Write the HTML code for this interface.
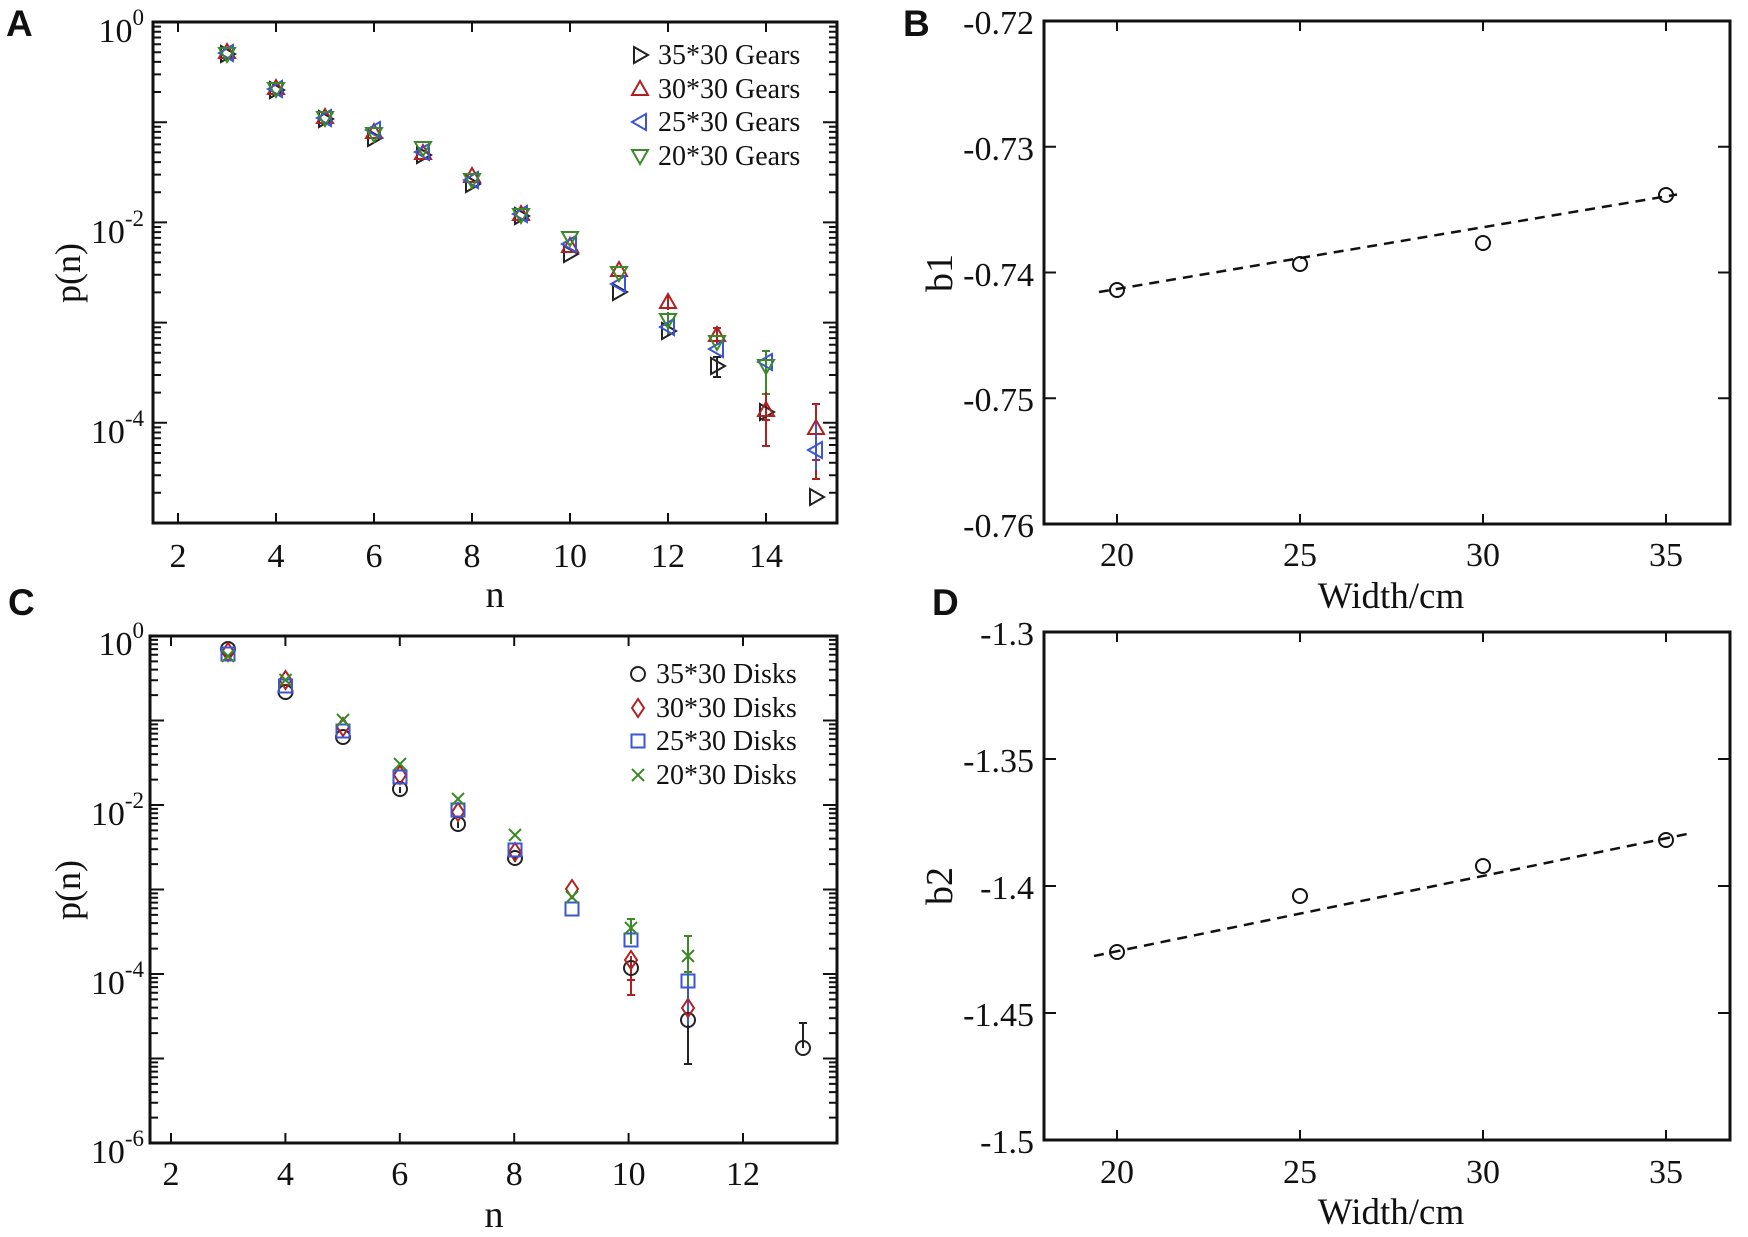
<!DOCTYPE html>
<html><head><meta charset="utf-8"><style>
html,body{margin:0;padding:0;background:#fff;}
svg{display:block;}
text{font-family:"Liberation Serif",serif;fill:#111;}
.lt{font-family:"Liberation Sans",sans-serif;font-weight:bold;font-size:37px;}
.tk{font-size:34px;}
.lg{font-size:28px;}
</style></head><body>
<svg width="1748" height="1237" viewBox="0 0 1748 1237" xmlns="http://www.w3.org/2000/svg">
<defs>
<path id="decA" d="M0 4.6h8M0 9.7h8M0 15.5h8M0 22.2h8M0 30.2h8M0 39.9h8M0 52.4h8M0 70h8" stroke="#111" stroke-width="2"/>
<path id="decC" d="M0 3.9h8M0 8.2h8M0 13.1h8M0 18.8h8M0 25.4h8M0 33.6h8M0 44.2h8M0 59.1h8" stroke="#111" stroke-width="2"/>
<path id="tR" d="M-6 -8L8 0L-6 8Z" fill="none" stroke-width="2"/>
<path id="tU" d="M-8 6L0 -8L8 6Z" fill="none" stroke-width="2"/>
<path id="tL" d="M6 -8L-8 0L6 8Z" fill="none" stroke-width="2"/>
<path id="tD" d="M-8 -6L0 8L8 -6Z" fill="none" stroke-width="2"/>
<circle id="ci" r="7" fill="none" stroke-width="2"/>
<path id="di" d="M0 -9L6 0L0 9L-6 0Z" fill="none" stroke-width="2"/>
<rect id="sq" x="-6.5" y="-6.5" width="13" height="13" fill="none" stroke-width="2"/>
<path id="xx" d="M-6 -6L6 6M-6 6L6 -6" fill="none" stroke-width="2"/>
</defs>

<text class="lt" x="6" y="36">A</text>
<text class="lt" x="903" y="36">B</text>
<text class="lt" x="8" y="615">C</text>
<text class="lt" x="932" y="615">D</text>

<!-- Panel A -->
<g stroke="#111" fill="none">
<rect x="153" y="22" width="684" height="501" stroke-width="3"/>
<path d="M178 523v-10M276 523v-10M374 523v-10M472 523v-10M570 523v-10M668 523v-10M766 523v-10M178 22v10M276 22v10M374 22v10M472 22v10M570 22v10M668 22v10M766 22v10" stroke-width="2"/>
<path d="M153 22h14M153 122.2h14M153 222.4h14M153 322.6h14M153 422.8h14M837 122.2h-14M837 222.4h-14M837 322.6h-14M837 422.8h-14" stroke-width="2"/>
</g>
<use href="#decA" x="153" y="22"/><use href="#decA" x="153" y="122.2"/><use href="#decA" x="153" y="222.4"/><use href="#decA" x="153" y="322.6"/><use href="#decA" x="153" y="422.8"/>
<use href="#decA" x="829" y="22"/><use href="#decA" x="829" y="122.2"/><use href="#decA" x="829" y="222.4"/><use href="#decA" x="829" y="322.6"/><use href="#decA" x="829" y="422.8"/>
<g class="tk" text-anchor="end">
<text x="144" y="42">10<tspan dy="-17" font-size="23">0</tspan></text>
<text x="144" y="243">10<tspan dy="-17" font-size="23">-2</tspan></text>
<text x="144" y="443">10<tspan dy="-17" font-size="23">-4</tspan></text>
</g>
<g class="tk" text-anchor="middle">
<text x="178" y="567">2</text><text x="276" y="567">4</text><text x="374" y="567">6</text><text x="472" y="567">8</text><text x="570" y="567">10</text><text x="668" y="567">12</text><text x="766" y="567">14</text>
</g>
<text x="495" y="607" font-size="38" text-anchor="middle">n</text>
<text transform="translate(80,273) rotate(-90)" font-size="36" text-anchor="middle">p(n)</text>

<g stroke-width="2">
<path d="M766 351V394M762 351h8M762 394h8" stroke="#3a8a2a"/>
<path d="M766 392V446M762 446h8M762 420h8" stroke="#b02020"/>
<path d="M816 404V479M812 404h8M812 479h8M812 460h8" stroke="#b02020"/>
<path d="M816 420V470" stroke="#3b55d6"/>
<path d="M717 357V377M713 357h8M713 377h8" stroke="#222"/>
<path d="M717 328V345M713 328h8" stroke="#b02020"/>
<path d="M668 312V335" stroke="#3a8a2a"/>
<path d="M668 295V310" stroke="#b02020"/>
</g>
<g stroke="#222">
<use href="#tR" x="227" y="54"/><use href="#tR" x="276" y="90"/><use href="#tR" x="325" y="119"/><use href="#tR" x="374" y="138"/><use href="#tR" x="423" y="155"/><use href="#tR" x="472" y="184"/><use href="#tR" x="521" y="216"/><use href="#tR" x="570" y="254"/><use href="#tR" x="619" y="292"/><use href="#tR" x="668" y="331"/><use href="#tR" x="717" y="366"/><use href="#tR" x="766" y="412"/><use href="#tR" x="816" y="497"/>
</g>
<g stroke="#b02020">
<use href="#tU" x="227" y="52"/><use href="#tU" x="276" y="88"/><use href="#tU" x="325" y="117"/><use href="#tU" x="374" y="132"/><use href="#tU" x="423" y="153"/><use href="#tU" x="472" y="176"/><use href="#tU" x="521" y="214"/><use href="#tU" x="570" y="246"/><use href="#tU" x="619" y="270"/><use href="#tU" x="668" y="302"/><use href="#tU" x="717" y="335"/><use href="#tU" x="766" y="410"/><use href="#tU" x="816" y="428"/>
</g>
<g stroke="#3b55d6">
<use href="#tL" x="227" y="53"/><use href="#tL" x="276" y="89"/><use href="#tL" x="325" y="118"/><use href="#tL" x="374" y="130"/><use href="#tL" x="423" y="152"/><use href="#tL" x="472" y="180"/><use href="#tL" x="521" y="214"/><use href="#tL" x="570" y="244"/><use href="#tL" x="619" y="284"/><use href="#tL" x="668" y="327"/><use href="#tL" x="717" y="349"/><use href="#tL" x="766" y="362"/><use href="#tL" x="816" y="450"/>
</g>
<g stroke="#3a8a2a">
<use href="#tD" x="227" y="54"/><use href="#tD" x="276" y="89"/><use href="#tD" x="325" y="118"/><use href="#tD" x="374" y="134"/><use href="#tD" x="423" y="148"/><use href="#tD" x="472" y="180"/><use href="#tD" x="521" y="215"/><use href="#tD" x="570" y="238"/><use href="#tD" x="619" y="273"/><use href="#tD" x="668" y="320"/><use href="#tD" x="717" y="342"/><use href="#tD" x="766" y="366"/>
</g>
<use href="#tR" x="640" y="55" stroke="#222"/>
<use href="#tU" x="640" y="89" stroke="#b02020"/>
<use href="#tL" x="640" y="122" stroke="#3b55d6"/>
<use href="#tD" x="640" y="156" stroke="#3a8a2a"/>
<g class="lg">
<text x="658" y="64">35*30 Gears</text>
<text x="658" y="98">30*30 Gears</text>
<text x="658" y="131">25*30 Gears</text>
<text x="658" y="165">20*30 Gears</text>
</g>

<!-- Panel C -->
<g stroke="#111" fill="none">
<rect x="150" y="636" width="687" height="507" stroke-width="3"/>
<path d="M171 1143v-10M285.4 1143v-10M399.8 1143v-10M514.2 1143v-10M628.6 1143v-10M743 1143v-10M171 636v10M285.4 636v10M399.8 636v10M514.2 636v10M628.6 636v10M743 636v10" stroke-width="2"/>
<path d="M150 720.5h14M150 805h14M150 889.5h14M150 974h14M150 1058.5h14M837 720.5h-14M837 805h-14M837 889.5h-14M837 974h-14M837 1058.5h-14" stroke-width="2"/>
</g>
<use href="#decC" x="150" y="636"/><use href="#decC" x="150" y="720.5"/><use href="#decC" x="150" y="805"/><use href="#decC" x="150" y="889.5"/><use href="#decC" x="150" y="974"/><use href="#decC" x="150" y="1058.5"/>
<use href="#decC" x="829" y="636"/><use href="#decC" x="829" y="720.5"/><use href="#decC" x="829" y="805"/><use href="#decC" x="829" y="889.5"/><use href="#decC" x="829" y="974"/><use href="#decC" x="829" y="1058.5"/>
<g class="tk" text-anchor="end">
<text x="144" y="655">10<tspan dy="-17" font-size="23">0</tspan></text>
<text x="144" y="825">10<tspan dy="-17" font-size="23">-2</tspan></text>
<text x="144" y="994">10<tspan dy="-17" font-size="23">-4</tspan></text>
<text x="144" y="1163">10<tspan dy="-17" font-size="23">-6</tspan></text>
</g>
<g class="tk" text-anchor="middle">
<text x="171" y="1185">2</text><text x="285.4" y="1185">4</text><text x="399.8" y="1185">6</text><text x="514.2" y="1185">8</text><text x="628.6" y="1185">10</text><text x="743" y="1185">12</text>
</g>
<text x="494" y="1227" font-size="38" text-anchor="middle">n</text>
<text transform="translate(80,890) rotate(-90)" font-size="36" text-anchor="middle">p(n)</text>

<g stroke-width="2">
<path d="M631 956V995M627 995h8M627 980h8" stroke="#b02020"/>
<path d="M631 919V944M627 919h8" stroke="#3a8a2a"/>
<path d="M688 1002V1064M684 1064h8" stroke="#222"/>
<path d="M688 936V1000M684 936h8M684 972h8" stroke="#3a8a2a"/>
<path d="M688 985V1025" stroke="#3b55d6"/>
<path d="M803 1023V1048M799 1023h8" stroke="#222"/>
<path d="M458 822v6M515 856v6M400 787v6" stroke="#222"/>
</g>
<g stroke="#222">
<use href="#ci" x="228" y="649"/><use href="#ci" x="285.5" y="692"/><use href="#ci" x="343" y="737"/><use href="#ci" x="400" y="789"/><use href="#ci" x="458" y="824"/><use href="#ci" x="515" y="858"/><use href="#ci" x="631" y="968"/><use href="#ci" x="688" y="1020"/><use href="#ci" x="803" y="1048"/>
</g>
<g stroke="#b02020">
<use href="#di" x="228" y="652"/><use href="#di" x="285.5" y="680"/><use href="#di" x="343" y="727"/><use href="#di" x="400" y="775"/><use href="#di" x="458" y="812"/><use href="#di" x="515" y="852"/><use href="#di" x="572" y="889"/><use href="#di" x="631" y="960"/><use href="#di" x="688" y="1008"/>
</g>
<g stroke="#3b55d6">
<use href="#sq" x="228" y="654"/><use href="#sq" x="285.5" y="686"/><use href="#sq" x="343" y="731"/><use href="#sq" x="400" y="777"/><use href="#sq" x="458" y="810"/><use href="#sq" x="515" y="850"/><use href="#sq" x="572" y="909"/><use href="#sq" x="631" y="940"/><use href="#sq" x="688" y="981"/>
</g>
<g stroke="#3a8a2a">
<use href="#xx" x="228" y="656"/><use href="#xx" x="285.5" y="680"/><use href="#xx" x="343" y="720"/><use href="#xx" x="400" y="764"/><use href="#xx" x="458" y="799"/><use href="#xx" x="515" y="835"/><use href="#xx" x="572" y="897"/><use href="#xx" x="631" y="928"/><use href="#xx" x="688" y="956"/>
</g>
<use href="#ci" x="638" y="674" stroke="#222"/>
<use href="#di" x="638" y="708" stroke="#b02020"/>
<use href="#sq" x="638" y="741" stroke="#3b55d6"/>
<use href="#xx" x="638" y="775" stroke="#3a8a2a"/>
<g class="lg">
<text x="656" y="683">35*30 Disks</text>
<text x="656" y="717">30*30 Disks</text>
<text x="656" y="750">25*30 Disks</text>
<text x="656" y="784">20*30 Disks</text>
</g>

<!-- Panel B -->
<g stroke="#111" fill="none">
<rect x="1044" y="21" width="686" height="503" stroke-width="3"/>
<path d="M1117 524v-10M1300 524v-10M1483 524v-10M1666 524v-10M1117 21v10M1300 21v10M1483 21v10M1666 21v10" stroke-width="2"/>
<path d="M1044 146.75h12M1044 272.5h12M1044 398.25h12M1730 146.75h-12M1730 272.5h-12M1730 398.25h-12" stroke-width="2"/>
</g>
<g class="tk" text-anchor="end">
<text x="1034" y="34">-0.72</text><text x="1034" y="160">-0.73</text><text x="1034" y="286">-0.74</text><text x="1034" y="411">-0.75</text><text x="1034" y="537">-0.76</text>
</g>
<g class="tk" text-anchor="middle">
<text x="1117" y="566">20</text><text x="1300" y="566">25</text><text x="1483" y="566">30</text><text x="1666" y="566">35</text>
</g>
<text x="1391" y="608" font-size="37" text-anchor="middle">Width/cm</text>
<text transform="translate(952,273) rotate(-90)" font-size="38" text-anchor="middle">b1</text>
<path d="M1099 292L1677 194.5" stroke="#111" stroke-width="2.5" stroke-dasharray="10,7" fill="none"/>
<g stroke="#111">
<use href="#ci" x="1117" y="290"/><use href="#ci" x="1300" y="264"/><use href="#ci" x="1483" y="243"/><use href="#ci" x="1666" y="195"/>
</g>

<!-- Panel D -->
<g stroke="#111" fill="none">
<rect x="1044" y="632" width="686" height="508" stroke-width="3"/>
<path d="M1117 1140v-10M1300 1140v-10M1483 1140v-10M1666 1140v-10M1117 632v10M1300 632v10M1483 632v10M1666 632v10" stroke-width="2"/>
<path d="M1044 759h12M1044 886h12M1044 1013h12M1730 759h-12M1730 886h-12M1730 1013h-12" stroke-width="2"/>
</g>
<g class="tk" text-anchor="end">
<text x="1034" y="645">-1.3</text><text x="1034" y="772">-1.35</text><text x="1034" y="899">-1.4</text><text x="1034" y="1026">-1.45</text><text x="1034" y="1153">-1.5</text>
</g>
<g class="tk" text-anchor="middle">
<text x="1117" y="1183">20</text><text x="1300" y="1183">25</text><text x="1483" y="1183">30</text><text x="1666" y="1183">35</text>
</g>
<text x="1391" y="1224" font-size="37" text-anchor="middle">Width/cm</text>
<text transform="translate(952,886) rotate(-90)" font-size="38" text-anchor="middle">b2</text>
<path d="M1094 956L1687 834" stroke="#111" stroke-width="2.5" stroke-dasharray="10,7" fill="none"/>
<g stroke="#111">
<use href="#ci" x="1117" y="952"/><use href="#ci" x="1300" y="896"/><use href="#ci" x="1483" y="866"/><use href="#ci" x="1666" y="840"/>
</g>
</svg>
</body></html>
